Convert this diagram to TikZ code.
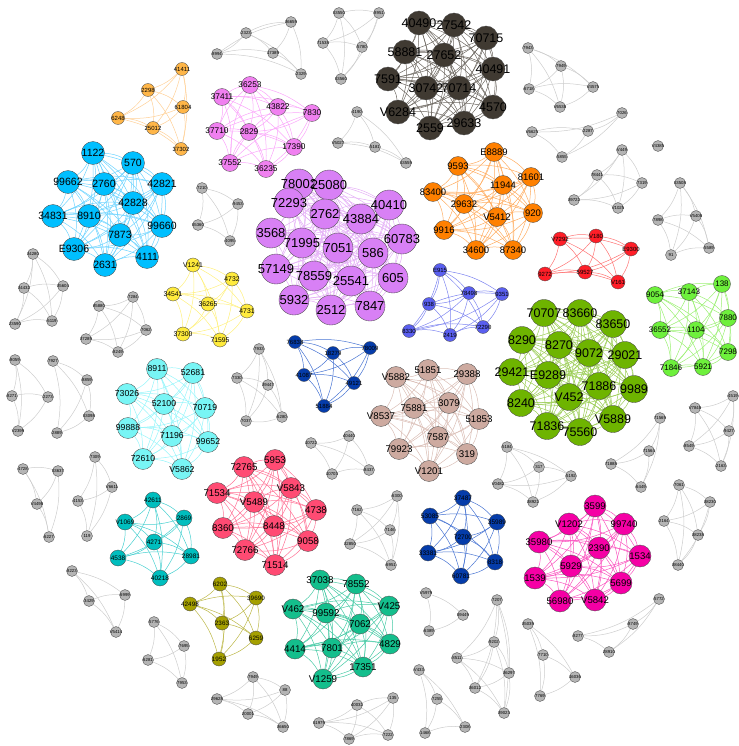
\documentclass[tikz,border=0pt]{standalone}
\usepackage{fontspec}
\setmainfont{Liberation Sans}
\usepackage{tikz}
\pgfdeclarelayer{bg}
\pgfsetlayers{bg,main}

\definecolor{cLo}{RGB}{255,182,72}   \definecolor{eLo}{RGB}{255,208,150}
\definecolor{cCy}{RGB}{0,191,255}    \definecolor{eCy}{RGB}{110,212,255}
\definecolor{cVi}{RGB}{240,128,240}  \definecolor{eVi}{RGB}{250,165,250}
\definecolor{cDk}{RGB}{64,58,50}     \definecolor{eDk}{RGB}{110,105,98}
\definecolor{cPu}{RGB}{216,128,245}  \definecolor{ePu}{RGB}{228,175,246}
\definecolor{cOr}{RGB}{255,128,0}    \definecolor{eOr}{RGB}{255,172,95}
\definecolor{cRd}{RGB}{255,30,40}    \definecolor{eRd}{RGB}{255,115,115}
\definecolor{cYe}{RGB}{255,235,60}   \definecolor{eYe}{RGB}{255,240,125}
\definecolor{cPw}{RGB}{90,95,240}    \definecolor{ePw}{RGB}{125,132,240}
\definecolor{cGr}{RGB}{110,180,0}    \definecolor{eGr}{RGB}{155,205,85}
\definecolor{cLg}{RGB}{110,240,60}   \definecolor{eLg}{RGB}{155,240,115}
\definecolor{cLc}{RGB}{120,245,245}  \definecolor{eLc}{RGB}{150,245,250}
\definecolor{cDb}{RGB}{5,60,170}     \definecolor{eDb}{RGB}{70,115,210}
\definecolor{cTn}{RGB}{205,170,160}  \definecolor{eTn}{RGB}{218,190,182}
\definecolor{cPk}{RGB}{255,75,115}   \definecolor{ePk}{RGB}{255,115,150}
\definecolor{cTl}{RGB}{0,190,190}    \definecolor{eTl}{RGB}{70,208,208}
\definecolor{cOl}{RGB}{165,160,0}    \definecolor{eOl}{RGB}{188,183,70}
\definecolor{cTq}{RGB}{20,190,140}   \definecolor{eTq}{RGB}{70,202,165}
\definecolor{cMg}{RGB}{245,0,165}    \definecolor{eMg}{RGB}{250,85,192}
\definecolor{cGy}{RGB}{180,180,180}  \definecolor{eGy}{RGB}{205,205,205}

\newcommand\linkall[3]{%
  \foreach \i in {1,...,#2}{\foreach \j in {\i,...,#2}{%
    \ifnum\i<\j\relax \draw[#3] (#1\i) to[bend left=12] (#1\j);\fi}}}

\tikzset{
  vtx/.style={circle, draw=black!70, line width=0.35pt, inner sep=0pt, text=black},
  fs/.style={font=\fontsize{#1}{#1}\selectfont},
  lov/.style={vtx, fill=cLo, minimum size=13pt, fs=6},
  cyv/.style={vtx, fill=cCy, minimum size=23pt, fs=10.5},
  viv/.style={vtx, fill=cVi, minimum size=17pt, fs=8.3},
  dkv/.style={vtx, fill=cDk, minimum size=24pt, fs=12.5},
  puv/.style={vtx, fill=cPu, minimum size=30pt, fs=13},
  orv/.style={vtx, fill=cOr, minimum size=19pt, fs=9.5},
  rdv/.style={vtx, fill=cRd, minimum size=14pt, fs=6},
  ylv/.style={vtx, fill=cYe, minimum size=14pt, fs=6.8},
  pwv/.style={vtx, fill=cPw, minimum size=13pt, fs=6},
  grv/.style={vtx, fill=cGr, minimum size=27pt, fs=12.5},
  lgv/.style={vtx, fill=cLg, minimum size=17pt, fs=8},
  lcv/.style={vtx, fill=cLc, minimum size=21pt, fs=8.7},
  dbv/.style={vtx, fill=cDb, minimum size=13pt, fs=6},
  tnv/.style={vtx, fill=cTn, minimum size=21pt, fs=9.7},
  pkv/.style={vtx, fill=cPk, minimum size=21pt, fs=9.7},
  tlv/.style={vtx, fill=cTl, minimum size=16pt, fs=6.5},
  blv/.style={vtx, fill=cDb, minimum size=16pt, fs=6.5},
  olv/.style={vtx, fill=cOl, minimum size=14pt, fs=6.3},
  tqv/.style={vtx, fill=cTq, minimum size=20pt, fs=9.8},
  mgv/.style={vtx, fill=cMg, minimum size=22pt, fs=9.6},
  gyv/.style={vtx, fill=cGy, minimum size=11pt, fs=4.3},
  lnk/.style={draw=#1, line width=0.5pt},
}

\begin{document}
\begin{tikzpicture}[x=1pt,y=-1pt]
  \useasboundingbox (0,0) rectangle (738,746);

  % coloured communities
  \foreach \n/\x/\y/\t in {1/182/69/41411, 2/148/90/2298, 3/183/107/61804, 4/118/118/6248,
      5/153/128/25012, 6/181/149/37302}
    \node[lov] (lo\n) at (\x,\y) {\makebox[0pt]{\t}};
  \foreach \n/\x/\y/\t in {1/93/153/1122, 2/133/163/570, 3/68/182/99662, 4/104/184/2760,
      5/162/184/42821, 6/53/216/34831, 7/89/216/8910, 8/133/203/42828, 9/162/226/99660,
      10/120/235/7873, 11/74/249/E9306, 12/105/265/2631, 13/147/257/4111}
    \node[cyv] (cy\n) at (\x,\y) {\makebox[0pt]{\t}};
  \foreach \n/\x/\y/\t in {1/222/97/37411, 2/217/131/37710, 3/230/163/37552, 4/250/85/36253,
      5/278/107/43822, 6/312/113/7830, 7/249/132/2829, 8/294/147/17390, 9/266/169/36235}
    \node[viv] (vi\n) at (\x,\y) {\makebox[0pt]{\t}};
  \foreach \n/\x/\y/\t in {1/419/23/40490, 2/454/25/27542, 3/486/38/70715, 4/405/52/58881,
      5/444/55/27652, 6/493/69/40491, 7/388/79/7591, 8/426/88/30742, 9/459/88/70714,
      10/398/112/V6284, 11/493/107/4570, 12/430/128/2559, 13/464/123/29633}
    \node[dkv] (dk\n) at (\x,\y) {\makebox[0pt]{\t}};
  \foreach \n/\x/\y/\t in {1/299/184/78002, 2/329/185/25080, 3/289/203/72293, 4/325/214/2762,
      5/361/219/43884, 6/389/205/40410, 7/271/233/3568, 8/302/243/71995, 9/338/248/7051,
      10/373/253/586, 11/402/239/60783, 12/276/269/57149, 13/314/276/78559, 14/351/281/25541,
      15/393/278/605, 16/294/300/5932, 17/331/310/2512, 18/370/306/7847}
    \node[puv] (pu\n) at (\x,\y) {\makebox[0pt]{\t}};
  \foreach \n/\x/\y/\t in {1/494/152/E8889, 2/458/166/9593, 3/531/177/81601, 4/503/185/11944,
      5/433/192/83400, 6/464/204/29632, 7/497/217/V5412, 8/533/213/920, 9/444/230/9916,
      10/476/250/34600, 11/513/250/87340}
    \node[orv] (or\n) at (\x,\y) {\makebox[0pt]{\t}};
  \foreach \n/\x/\y/\t in {1/560/239/V7292, 2/596/236/V180, 3/631/249/E9300, 4/545/274/9272,
      5/585/272/59527, 6/618/282/V161}
    \node[rdv] (rd\n) at (\x,\y) {\makebox[0pt]{\t}};
  \foreach \n/\x/\y/\t in {1/193/265/V1241, 2/232/279/4732, 3/173/294/34541, 4/208/304/36265,
      5/247/311/4731, 6/183/334/37300, 7/220/340/71595}
    \node[ylv] (yl\n) at (\x,\y) {\makebox[0pt]{\t}};
  \foreach \n/\x/\y/\t in {1/440/270/E915, 2/469/293/78498, 3/429/304/938, 4/502/294/9351,
      5/409/331/8330, 6/450/335/2419, 7/483/327/72290}
    \node[pwv] (pw\n) at (\x,\y) {\makebox[0pt]{\t}};
  \foreach \n/\x/\y/\t in {1/544/313/70707, 2/580/313/83660, 3/613/324/83650, 4/522/340/8290,
      5/559/345/8270, 6/589/353/9072, 7/625/355/29021, 8/512/372/29421, 9/548/375/E9289,
      10/599/386/71886, 11/634/389/9989, 12/569/397/V452, 13/521/403/8240, 14/613/419/V5889,
      15/547/426/71836, 16/580/432/75560}
    \node[grv] (gr\n) at (\x,\y) {\makebox[0pt]{\t}};
  \foreach \n/\x/\y/\t in {1/655/295/9054, 2/689/292/37143, 3/722/284/138, 4/728/318/7880,
      5/660/330/36552, 6/696/330/1104, 7/728/352/7298, 8/671/368/71846, 9/703/367/5921}
    \node[lgv] (lg\n) at (\x,\y) {\makebox[0pt]{\t}};
  \foreach \n/\x/\y/\t in {1/157/369/8911, 2/193/373/52681, 3/127/394/73026, 4/164/404/52100,
      5/205/408/70719, 6/128/428/99888, 7/172/436/71196, 8/208/442/99652, 9/143/459/72610,
      10/182/469/V5862}
    \node[lcv] (lc\n) at (\x,\y) {\makebox[0pt]{\t}};
  \foreach \n/\x/\y/\t in {1/295/342/76838, 2/333/353/18279, 3/370/348/78009, 4/304/375/41087,
      5/354/383/49121, 6/324/406/51884}
    \node[dbv] (db\n) at (\x,\y) {\makebox[0pt]{\t}};
  \foreach \n/\x/\y/\t in {1/428/370/51851, 2/467/374/29388, 3/396/377/V5882, 4/414/408/75881,
      5/449/403/3079, 6/381/416/V8537, 7/479/419/51853, 8/438/437/7587, 9/399/449/79923,
      10/467/454/319, 11/429/471/V1201}
    \node[tnv] (tn\n) at (\x,\y) {\makebox[0pt]{\t}};
  \foreach \n/\x/\y/\t in {1/244/467/72765, 2/275/460/5953, 3/217/493/71534, 4/254/502/V5489,
      5/291/488/V5843, 6/316/510/4738, 7/223/528/8360, 8/274/526/8448, 9/308/541/9058,
      10/245/550/72766, 11/275/565/71514}
    \node[pkv] (pk\n) at (\x,\y) {\makebox[0pt]{\t}};
  \foreach \n/\x/\y/\t in {1/153/500/42611, 2/184/518/2869, 3/125/522/V1069, 4/154/542/4271,
      5/118/558/4538, 6/191/556/28981, 7/160/578/40218}
    \node[tlv] (tl\n) at (\x,\y) {\makebox[0pt]{\t}};
  \foreach \n/\x/\y/\t in {1/463/498/37487, 2/430/516/53085, 3/497/522/35989, 4/463/537/72700,
      5/428/553/33381, 6/495/562/8318, 7/461/576/60781}
    \node[blv] (bl\n) at (\x,\y) {\makebox[0pt]{\t}};
  \foreach \n/\x/\y/\t in {1/220/584/6202, 2/190/604/42498, 3/256/598/39690, 4/222/623/2363,
      5/256/638/6259, 6/219/659/1952}
    \node[olv] (ol\n) at (\x,\y) {\makebox[0pt]{\t}};
  \foreach \n/\x/\y/\t in {1/320/580/37038, 2/356/584/78552, 3/293/609/V462, 4/326/613/99592,
      5/389/606/V425, 6/360/624/7062, 7/295/649/4414, 8/332/648/7801, 9/390/644/4829,
      10/363/667/17351, 11/323/679/V1259}
    \node[tqv] (tq\n) at (\x,\y) {\makebox[0pt]{\t}};
  \foreach \n/\x/\y/\t in {1/595/506/3599, 2/569/524/V1202, 3/624/524/99740, 4/539/542/35980,
      5/599/548/2390, 6/640/556/1534, 7/571/566/5929, 8/535/578/1539, 9/621/583/5699,
      10/560/601/56980, 11/595/600/V5842}
    \node[mgv] (mg\n) at (\x,\y) {\makebox[0pt]{\t}};

  % small grey components
  \foreach \g/\n/\x/\y/\t in {xa/1/246/33/2323, xa/2/217/54/8994, xa/3/291/22/36659, xa/4/273/53/17389, xa/5/301/74/2329,
      xb/1/339/13/53550, xb/2/379/13/8951, xb/3/323/43/71538, xb/4/362/47/5780, xb/5/341/79/53560,
      xc/1/357/112/4190, xc/2/338/143/V5027, xc/3/375/147/5181, xc/4/406/163/53559,
      xd/1/528/48/7943, xd/2/561/66/7949, xd/3/529/89/6718, xd/4/593/87/V4575, xd/5/560/107/V6538,
      xe/1/622/113/7026, xe/2/532/132/V6625, xe/3/588/131/2287, xe/4/562/157/5855,
      xf/1/658/146/V4385,
      xg/1/622/150/V449, xg/2/597/175/78441, xg/3/642/183/7319, xg/4/574/200/39722, xg/5/618/208/V1025,
      xh/1/680/183/53508, xh/2/658/220/7898, xh/3/696/216/V5408, xh/4/671/255/91, xh/5/709/248/5589,
      xi/1/202/188/7210, xi/2/238/204/9453, xi/3/198/225/55360, xi/4/230/241/4095,
      xj/1/33/254/34280, xj/2/24/288/34432, xj/3/63/286/35604, xj/4/15/324/23590, xj/5/52/321/6119,
      xk/1/133/297/7284, xk/2/99/306/85880, xk/3/146/330/7062, xk/4/86/339/37289, xk/5/118/352/8249,
      xl/1/15/360/8059, xl/2/12/396/8271, xl/3/48/397/2273, xl/4/18/431/V2399,
      xm/1/53/361/7927, xm/2/87/380/8859, xm/3/89/416/53098, xm/4/57/433/2889,
      xn/1/23/469/4728, xn/2/58/471/53637, xn/3/37/504/V4498, xn/4/49/537/6227,
      xo/1/95/457/7309, xo/2/112/487/V6611, xo/3/78/501/4153, xo/4/87/536/119,
      xp/1/72/571/8223, xp/2/89/601/3429, xp/3/125/595/6999, xp/4/116/632/V5414,
      xq/1/154/622/5776, xq/2/184/646/7695, xq/3/148/660/6281, xq/4/182/683/7953,
      xr/1/253/677/7949, xr/2/285/690/88, xr/3/217/699/29628, xr/4/248/714/20001, xr/5/283/727/36650,
      xs/1/357/705/40032, xs/2/393/698/135, xs/3/319/723/51979, xs/4/349/739/7869, xs/5/388/735/7222,
      xt/1/419/670/V433, xt/2/437/699/7255, xt/3/425/733/1468, xt/4/465/727/2308,
      xu/1/426/593/V5979, xu/2/463/615/59449, xu/3/429/631/6389,
      xv/1/397/496/6300, xv/2/357/510/7162, xv/3/390/530/7146, xv/4/350/544/32850, xv/5/391/565/6951,
      xw/1/497/600/7207, xw/2/494/642/9202, xw/3/457/658/8511, xw/4/509/673/36297, xw/5/475/688/36012, xw/6/504/713/39023,
      xx/1/528/624/35039, xx/2/543/655/7710, xx/3/575/677/16036, xx/4/540/696/7769,
      xy/1/659/599/5772, xy/2/633/624/8749, xy/3/578/636/8277, xy/4/609/652/28910,
      xz/1/733/396/4519, xz/2/695/408/V7848, xz/3/729/431/9427, xz/4/689/446/8549, xz/5/721/466/2163,
      ya/1/660/418/71569, ya/2/649/451/71564, ya/3/611/464/71888, ya/4/641/487/6449,
      yb/1/507/447/5184, yb/2/539/467/317, yb/3/571/476/5192, yb/4/498/484/V0482, yb/5/533/502/38922,
      yc/1/679/485/7061, yc/2/710/502/38230, yc/3/664/521/2164, yc/4/698/535/38238, yc/5/678/565/38440,
      yd/1/349/436/40440, yd/2/311/443/10722, yd/3/332/474/10703, yd/4/369/470/8437,
      yg/1/259/349/7933, yg/2/237/378/7330, yg/3/268/385/39447, yg/4/282/417/6280, yg/5/246/421/7037}
    \node[gyv] (\g\n) at (\x,\y) {\makebox[0pt]{\t}};

  \begin{pgfonlayer}{bg}
    \linkall{lo}{6}{lnk=eLo}   \linkall{cy}{13}{lnk=eCy}  \linkall{vi}{9}{lnk=eVi}
    \linkall{dk}{13}{lnk=eDk}  \linkall{pu}{18}{lnk=ePu}  \linkall{or}{11}{lnk=eOr}
    \linkall{rd}{6}{lnk=eRd}   \linkall{yl}{7}{lnk=eYe}   \linkall{pw}{7}{lnk=ePw}
    \linkall{gr}{16}{lnk=eGr}  \linkall{lg}{9}{lnk=eLg}   \linkall{lc}{10}{lnk=eLc}
    \linkall{db}{6}{lnk=eDb}   \linkall{tn}{11}{lnk=eTn}  \linkall{pk}{11}{lnk=ePk}
    \linkall{tl}{7}{lnk=eTl}   \linkall{bl}{7}{lnk=eDb}   \linkall{ol}{6}{lnk=eOl}
    \linkall{tq}{11}{lnk=eTq}  \linkall{mg}{11}{lnk=eMg}
    \foreach \g/\k in {xa/5, xb/5, xc/4, xd/5, xe/4, xg/5, xh/5, xi/4, xj/5, xk/5, xl/4, xm/4,
        xn/4, xo/4, xp/4, xq/4, xr/5, xs/5, xt/4, xu/3, xv/5, xw/6, xx/4, xy/4, xz/5, ya/4,
        yb/5, yc/5, yd/4, yg/5}
      {\linkall{\g}{\k}{lnk=eGy}}
  \end{pgfonlayer}
\end{tikzpicture}
\end{document}
